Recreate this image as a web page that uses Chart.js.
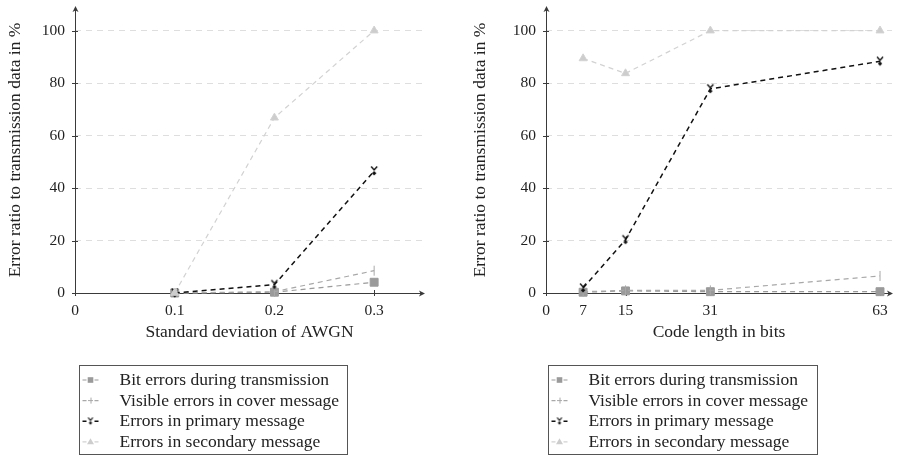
<!DOCTYPE html>
<html><head><meta charset="utf-8">
<script src="https://cdn.jsdelivr.net/npm/chart.js@4/dist/chart.umd.min.js"></script>
<style>
html,body{margin:0;padding:0;background:#fff;width:899px;height:457px;overflow:hidden}
.box{position:absolute;top:0;height:457px}
#w1{left:0;width:460px}
#w2{left:460px;width:439px}
</style></head><body>
<div class="box" id="w1"><canvas id="c1"></canvas></div>
<div class="box" id="w2"><canvas id="c2"></canvas></div>
<script>
// ---- data ----
const seriesNames = ['Bit errors during transmission','Visible errors in cover message','Errors in primary message','Errors in secondary message'];
const sigmaValues = [0.1, 0.2, 0.3];
const sigmaBit = [0, 0.3, 4.1];
const sigmaVisible = [0, 0.5, 8.5];
const sigmaPrimary = [0, 3.2, 46.5];
const sigmaSecondary = [0, 66.8, 100];
const codeLengths = [7, 15, 31, 63];
const codeBit = [0.3, 0.8, 0.5, 0.5];
const codeVisible = [0.5, 1.0, 1.0, 6.5];
const codePrimary = [1.9, 20.3, 77.8, 88.3];
const codeSecondary = [89.4, 83.7, 100, 100];
const sigmaTicks = [0, 0.1, 0.2, 0.3];
const codeTicks = [0, 7, 15, 31, 63];
const yTicks = [0, 20, 40, 60, 80, 100];

const FONT = "'Liberation Serif', 'DejaVu Serif', serif";
const FS = 15.5;   // tick labels
const FL = 17.5;   // titles and legend
const TXT = '#222';
const AXIS = '#3a3a3a';

// custom marker for primary series
function makeArrowMarker(scale){
  const s = Math.ceil(14*scale);
  const c = document.createElement('canvas');
  c.width = s; c.height = s;
  const g = c.getContext('2d');
  g.translate(s/2, s/2); g.scale(scale, scale);
  g.strokeStyle = '#111'; g.fillStyle = '#111'; g.lineWidth = 1.4;
  g.beginPath(); g.moveTo(-3,-4.5); g.lineTo(0,-1); g.lineTo(3,-4.5); g.stroke();
  g.beginPath(); g.moveTo(0,0); g.lineTo(2.2,2.2); g.lineTo(0,4.4); g.lineTo(-2.2,2.2); g.closePath(); g.fill();
  return c;
}
const arrowMarker = makeArrowMarker(1);
const arrowMarkerSmall = makeArrowMarker(0.8);

const styles = [
  {borderColor:'#9a9a9a', backgroundColor:'#9a9a9a', pointStyle:'rect', pointRadius:5.6, borderWidth:1.2},
  {borderColor:'#a8a8a8', backgroundColor:'#a8a8a8', pointStyle:'line', pointRotation:90, pointRadius:5, borderWidth:1.2},
  {borderColor:'#111111', backgroundColor:'#111111', pointStyle:arrowMarker, pointRadius:6, borderWidth:1.5},
  {borderColor:'#d2d2d2', backgroundColor:'#cdcdcd', pointStyle:'triangle', pointRadius:4.6, borderWidth:1.2}
];

function makeDatasets(xs, arrays){
  return arrays.map((arr, i) => Object.assign({
    label: seriesNames[i],
    data: xs.map((x, j) => ({x: x, y: arr[j]})),
    borderDash: [5, 4],
    pointBorderWidth: 1,
    pointHoverRadius: 0,
    tension: 0,
    fill: false,
    clip: false,
    order: 4 - i
  }, styles[i]));
}

const axisPlugin = {
  id: 'axisPlugin',
  beforeDatasetsDraw(chart){
    const ctx = chart.ctx, a = chart.chartArea;
    const xs = chart.scales.x, ys = chart.scales.y;
    const x0 = xs.getPixelForValue(0), y0 = ys.getPixelForValue(0);
    ctx.save();
    ctx.strokeStyle = AXIS; ctx.fillStyle = AXIS; ctx.lineWidth = 1; ctx.setLineDash([]);
    ctx.beginPath();
    xs.ticks.forEach(t => { const p = Math.round(xs.getPixelForValue(t.value))+0.5; ctx.moveTo(p, y0-3); ctx.lineTo(p, y0+3); });
    ys.ticks.forEach(t => { const p = Math.round(ys.getPixelForValue(t.value))+0.5; ctx.moveTo(x0-3, p); ctx.lineTo(x0+3, p); });
    ctx.stroke();
    const yx = Math.round(x0)+0.5, xy = Math.round(y0)+0.5;
    ctx.beginPath(); ctx.moveTo(yx, xy); ctx.lineTo(yx, a.top); ctx.moveTo(yx, xy); ctx.lineTo(a.right, xy); ctx.stroke();
    ctx.beginPath(); ctx.moveTo(yx, a.top-1); ctx.lineTo(yx-3, a.top+5); ctx.lineTo(yx, a.top+3.5); ctx.lineTo(yx+3, a.top+5); ctx.closePath(); ctx.fill();
    ctx.beginPath(); ctx.moveTo(a.right+1, xy); ctx.lineTo(a.right-5, xy-3); ctx.lineTo(a.right-3.5, xy); ctx.lineTo(a.right-5, xy+3); ctx.closePath(); ctx.fill();
    ctx.restore();
  },
  afterDraw(chart, args, opts){
    const ctx = chart.ctx;
    ctx.save();
    ctx.setLineDash([]);
    ctx.strokeStyle = '#555'; ctx.lineWidth = 1;
    ctx.strokeRect(opts.x+0.5, opts.y+0.5, opts.w, opts.h);
    chart.data.datasets.forEach((ds, i) => {
      const cy = opts.y + 15 + i*20.6;
      const lx = opts.x + 3.5, mx = opts.x + 11.5;
      ctx.strokeStyle = ds.borderColor; ctx.lineWidth = ds.borderWidth;
      ctx.beginPath();
      ctx.moveTo(lx, cy); ctx.lineTo(lx+4, cy);
      ctx.moveTo(lx+12, cy); ctx.lineTo(lx+16, cy);
      ctx.stroke();
      ctx.fillStyle = ds.backgroundColor; ctx.strokeStyle = ds.borderColor; ctx.lineWidth = 1;
      if (ds.pointStyle === 'rect') {
        ctx.fillRect(mx-2.8, cy-2.8, 5.6, 5.6);
      } else if (ds.pointStyle === 'line') {
        ctx.beginPath(); ctx.moveTo(mx-2.5, cy); ctx.lineTo(mx+2.5, cy); ctx.moveTo(mx+0.5, cy-3); ctx.lineTo(mx+0.5, cy+3); ctx.stroke();
      } else if (ds.pointStyle === 'triangle') {
        ctx.beginPath(); ctx.moveTo(mx, cy-3.5); ctx.lineTo(mx+3.5, cy+2.5); ctx.lineTo(mx-3.5, cy+2.5); ctx.closePath(); ctx.fill();
      } else {
        const m = arrowMarkerSmall; ctx.drawImage(m, mx - m.width/2, cy - m.height/2);
      }
      ctx.fillStyle = TXT;
      ctx.font = FL + 'px ' + FONT;
      ctx.textBaseline = 'middle'; ctx.textAlign = 'left';
      ctx.fillText(ds.label, opts.x + 40.5, cy + 0.5);
    });
    ctx.restore();
  }
};

function makeChart(id, xs, arrays, xTicks, xMax, xTitle, yAxisWidth, padRight, yTitlePad, legendBox){
  return new Chart(document.getElementById(id), {
    type: 'line',
    data: { datasets: makeDatasets(xs, arrays) },
    plugins: [axisPlugin],
    options: {
      responsive: true, maintainAspectRatio: false, animation: false,
      events: [],
      layout: { padding: { left: 0, top: 5, right: padRight, bottom: 114 } },
      plugins: { legend: { display: false }, tooltip: { enabled: false }, axisPlugin: legendBox },
      scales: {
        x: {
          type: 'linear', min: 0, max: xMax,
          afterBuildTicks: s => { s.ticks = xTicks.map(v => ({value: v})); },
          afterFit: s => { s.height = 50; s.paddingLeft = 0; s.paddingRight = 0; },
          grid: { display: false, drawTicks: false },
          border: { display: false },
          ticks: { color: TXT, font: { family: FONT, size: FS }, padding: 9, maxRotation: 0, autoSkip: false,
                   callback: v => String(v) },
          title: { display: true, text: xTitle, color: TXT, font: { family: FONT, size: FL }, padding: { top: 0, bottom: 0 } }
        },
        y: {
          type: 'linear', min: 0, max: 109,
          afterBuildTicks: s => { s.ticks = yTicks.map(v => ({value: v})); },
          afterFit: s => { s.width = yAxisWidth; s.paddingTop = 0; s.paddingBottom = 0; },
          grid: { drawTicks: false, lineWidth: 1, color: c => (c.tick && c.tick.value === 0) ? 'rgba(0,0,0,0)' : '#dedede' },
          border: { display: false, dash: [6, 5] },
          ticks: { color: TXT, font: { family: FONT, size: FS }, padding: 10, autoSkip: false, callback: v => String(v) },
          title: { display: true, text: 'Error ratio to transmission data in %', color: TXT, font: { family: FONT, size: FL }, padding: { top: yTitlePad, bottom: 0 } }
        }
      }
    }
  });
}

makeChart('c1', sigmaValues, [sigmaBit, sigmaVisible, sigmaPrimary, sigmaSecondary], sigmaTicks, 0.35,
  'Standard deviation of AWGN', 75, 36, 4.5, {x: 79, y: 365, w: 268, h: 89});
makeChart('c2', codeLengths, [codeBit, codeVisible, codePrimary, codeSecondary], codeTicks, 65.26,
  'Code length in bits', 86, 6, 9.5, {x: 88, y: 365, w: 269, h: 89});
</script>
</body></html>
